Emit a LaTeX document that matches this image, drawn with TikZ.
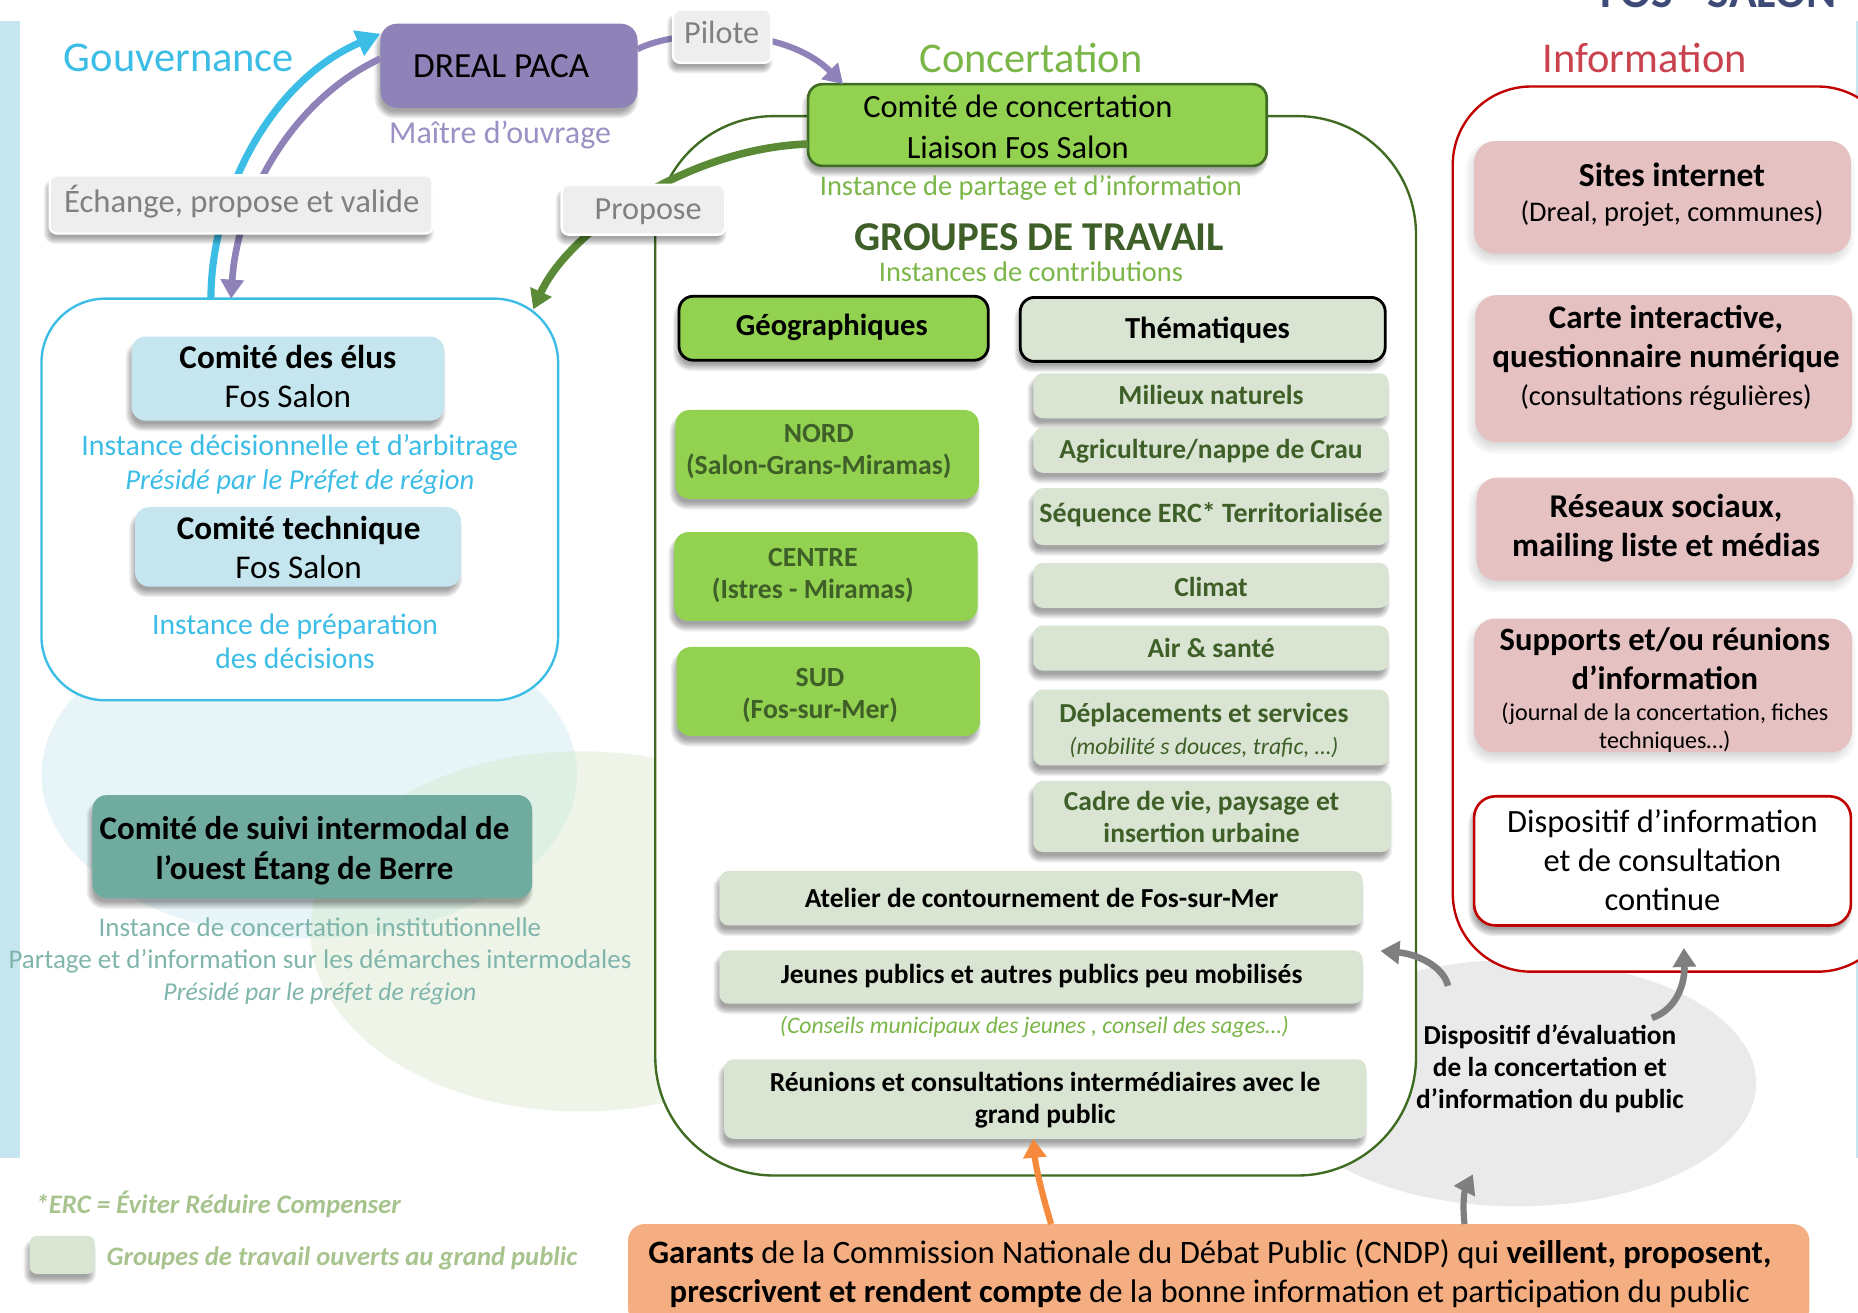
\documentclass[tikz,border=0pt]{standalone}
\usepackage{fontspec}
\setmainfont{Carlito}
\usetikzlibrary{arrows.meta,calc}
\definecolor{cblue}{HTML}{3BBDE6}
\definecolor{cpale}{HTML}{C5E6EF}
\definecolor{cpurple}{HTML}{8E82B8}
\definecolor{cpurpletxt}{HTML}{9C90C4}
\definecolor{cgreen}{HTML}{92D250}
\definecolor{cgreentxt}{HTML}{7AB648}
\definecolor{cdark}{HTML}{3F5F28}
\definecolor{csage}{HTML}{D9E4D2}
\definecolor{cline}{HTML}{3F6B22}
\definecolor{carrow}{HTML}{5A8A35}
\definecolor{cred}{HTML}{C00000}
\definecolor{credtxt}{HTML}{C9434F}
\definecolor{cpink}{HTML}{E5C1C1}
\definecolor{cteal}{HTML}{6FAC9F}
\definecolor{ctealtxt}{HTML}{7FB5AA}
\definecolor{corange}{HTML}{F4AE82}
\definecolor{corarrow}{HTML}{F58A3C}
\definecolor{clabel}{HTML}{EEEEEE}
\definecolor{clabeltxt}{HTML}{808080}
\definecolor{cgreyarrow}{HTML}{7F7F7F}
\definecolor{clegend}{HTML}{A8C48E}
\definecolor{ctitle}{HTML}{3E4A78}
\definecolor{cellgreen}{HTML}{CFE5BE}
\definecolor{cellgrey}{HTML}{EAEAEA}
\tikzset{
  fs/.style 2 args={font=\fontsize{#1}{#2}\selectfont},
  boxcore/.style={inner sep=0pt,outer sep=0pt,rounded corners=6pt},
  purplebox/.style={boxcore,fill=cpurple,rounded corners=7pt,text=black,fs={14.9}{17}},
  palebox/.style={boxcore,fill=cpale,text=black,fs={14}{16.5}},
  tealbox/.style={boxcore,fill=cteal,text=black,fs={13.9}{16.5}},
  greenbox/.style={boxcore,fill=cgreen,text=cdark,fs={11.7}{13.5}},
  headbox/.style={boxcore,draw=black,line width=1.2pt,text=black,fs={12.9}{15}},
  sagebox/.style={boxcore,fill=csage,text=cdark,fs={11.6}{13.5},rounded corners=4pt},
  sageblack/.style={sagebox,text=black},
  pinkbox/.style={boxcore,fill=cpink,text=black,rounded corners=9pt,fs={13.9}{16.5}},
  tagbox/.style={boxcore,fill=clabel,draw=white,line width=1pt,text=clabeltxt,rounded corners=3pt,fs={13.6}{16}},
  orbox/.style={boxcore,fill=corange,rounded corners=7pt,text=black,fs={13.8}{16.5}},
  plain/.style={inner sep=0pt,outer sep=0pt,align=center},
  frame/.style={inner sep=0pt,outer sep=0pt,fill=white},
  thickarrow/.style={line width=#1,-{Triangle[length=8pt,width=9.5pt]}},
  thickarrow/.default=3pt
}
\newcommand\bx[9]{%
  \pgfmathsetmacro\cxx{(#3+#5)/2}\pgfmathsetmacro\cyy{(#4+#6)/2}%
  \pgfmathsetmacro\www{(#5-#3)*0.5}\pgfmathsetmacro\hhh{(#6-#4)*0.5}%
  \pgfmathsetmacro\ddx{#7-\cxx}\pgfmathsetmacro\ddy{(\cyy-#8)*0.5-1.5}%
  \node[#2,minimum width=\www pt,minimum height=\hhh pt] (#1) at (\cxx,\cyy)
    {\hspace*{\ddx pt}\raisebox{\dimexpr\ddy pt-0.25em\relax}[0pt][0pt]{\begin{tabular}{@{}c@{}}#9\end{tabular}}};}
% stacked soft shadows
\newcommand\shh[4]{\foreach \e in {-3,-2,-1,0,1,2,3}{%
  \pgfmathsetmacro\rc{max(\rr+0.5*\e,1)}%
  \fill[black,opacity=.06,rounded corners=\rc pt] ({#1-(\e)-2},{#2-(\e)+6}) rectangle ({#3+(\e)-2},{#4+(\e)+6});}}
\newcommand\shs[4]{\foreach \e in {-5,-3,-1,1,3,5}{%
  \pgfmathsetmacro\rc{max(\rr+0.5*\e,1)}%
  \fill[black,opacity=.028,rounded corners=\rc pt] ({#1-(\e)-2},{#2-(\e)+5}) rectangle ({#3+(\e)-2},{#4+(\e)+5});}}
\newcommand\bxh[1][6]{\def\rr{#1}\bxhx}
\newcommand\bxhx[9]{\shh{#3}{#4}{#5}{#6}\bx{#1}{#2}{#3}{#4}{#5}{#6}{#7}{#8}{#9}}
\newcommand\bxs[1][9]{\def\rr{#1}\bxsx}
\newcommand\bxsx[9]{\shs{#3}{#4}{#5}{#6}\bx{#1}{#2}{#3}{#4}{#5}{#6}{#7}{#8}{#9}}
\newcommand\tx[5]{\node[plain,#2] (#1) at (#3,#4) {#5};}
\newcommand\sz[1]{\fontsize{#1}{14}\selectfont}
\begin{document}
\begin{tikzpicture}[x=0.5pt,y=-0.5pt]
\clip (0,0) rectangle (1568,1108);
\fill[white] (0,0) rectangle (1568,1108);
% stripes
\fill[cpale] (0,18) rectangle (17,977);
\fill[cpale] (1566,18) rectangle (1568,977);
% background ellipses
\fill[cpale,opacity=.4] (261,654) ellipse [x radius=226,y radius=138];
\fill[cellgreen,opacity=.35] (490,786) ellipse [x radius=228,y radius=152];
\fill[cellgrey] (1280,914) ellipse [x radius=202,y radius=104];
% title
\node[anchor=base,inner sep=0pt,font=\fontsize{19.3}{24}\selectfont\bfseries,text=ctitle] (title) at (1450,6) {FOS - SALON};
% containers
\node[frame,draw=cblue,line width=1pt,rounded corners=27pt,minimum width=218pt,minimum height=169.5pt] (gov) at (253,421.5) {};
\node[frame,draw=cline,line width=1pt,rounded corners=50pt,minimum width=321pt,minimum height=447pt] (con) at (874,545) {};
\node[frame,draw=cred,line width=1pt,rounded corners=33pt,minimum width=187pt,minimum height=373.5pt] (inf) at (1413,446.5) {};
% headings
\tx{hgov}{fs={17.9}{22},text=cblue}{151}{49}{Gouvernance}
\tx{hcon}{fs={17.9}{22},text=cgreentxt}{870}{49}{Concertation}
\tx{hinf}{fs={17.9}{22},text=credtxt}{1388}{49}{Information}
% governance
\bxh[7]{dreal}{purplebox}{321}{20}{538}{91}{423}{55}{DREAL PACA}
\tx{mo}{fs={13.5}{16},text=cpurpletxt}{422}{114}{Maître d’ouvrage}
\bxh{elus}{palebox}{111}{284}{375}{355}{243}{318}{\textbf{Comité des élus}\\Fos Salon}
\tx{t1}{fs={12.6}{14.5},text=cblue}{253}{392}{Instance décisionnelle et d’arbitrage\\\sz{12.1}\textit{Présidé par le Préfet de région}}
\bxh{tech}{palebox}{114}{428}{389}{495}{252}{462}{\textbf{Comité technique}\\Fos Salon}
\tx{t2}{fs={12.5}{14.5},text=cblue}{249}{541}{Instance de préparation\\des décisions}
\bxh{suivi}{tealbox}{78}{671}{449}{758}{257}{716}{\textbf{Comité de suivi intermodal de}\\\textbf{l’ouest Étang de Berre}}
\tx{t3}{fs={11.4}{13.5},text=ctealtxt}{270}{811}{Instance de concertation institutionnelle\\Partage et d’information sur les démarches intermodales\\\sz{10.85}\textit{Présidé par le préfet de région}}
% concertation
\bxh{cc}{boxcore,fill=cgreen,draw=cline,line width=1.1pt,text=black,fs={13.7}{17}}{682}{71}{1069}{140}{859}{107}{Comité de concertation\\Liaison Fos Salon}
\tx{t4}{fs={12}{15},text=cgreentxt}{870}{159}{Instance de partage et d’information}
\tx{gt}{fs={17.3}{19},text=cdark}{877}{200}{\textbf{GROUPES DE TRAVAIL}}
\tx{t5}{fs={12}{15},text=cgreentxt}{870}{229}{Instances de contributions}
\bxh{geo}{headbox,fill=cgreen}{573}{250}{834}{304}{702}{274}{\textbf{Géographiques}}
\bxh{the}{headbox,fill=csage}{861}{251}{1169}{305}{1019}{276}{\textbf{Thématiques}}
\bxh{nord}{greenbox}{570}{346}{826}{421}{691}{379}{\textbf{NORD}\\\textbf{(Salon-Grans-Miramas)}}
\bxh{centre}{greenbox}{569}{449}{825}{524}{686}{483}{\textbf{CENTRE}\\\textbf{(Istres - Miramas)}}
\bxh{sud}{greenbox}{571}{546}{827}{621}{692}{585}{\textbf{SUD}\\\textbf{(Fos-sur-Mer)}}
\bxh[4]{s1}{sagebox}{872}{315}{1172}{353}{1022}{333}{\textbf{Milieux naturels}}
\bxh[4]{s2}{sagebox}{872}{361}{1172}{399}{1022}{379}{\textbf{Agriculture/nappe de Crau}}
\bxh[4]{s3}{sagebox,fs={11.8}{13.5}}{872}{412}{1172}{460}{1022}{433}{\textbf{Séquence ERC* Territorialisée}}
\bxh[4]{s4}{sagebox}{872}{475}{1172}{513}{1022}{495}{\textbf{Climat}}
\bxh[4]{s5}{sagebox}{872}{528}{1172}{566}{1022}{547}{\textbf{Air \& santé}}
\bxh[4]{s6}{sagebox}{872}{582}{1172}{646}{1016}{615}{\textbf{Déplacements et services}\\{\fontsize{10}{13}\selectfont\textit{(mobilité s douces, trafic, …)}}}
\bxh[4]{s7}{sagebox}{872}{659}{1174}{719}{1014}{689}{\textbf{Cadre de vie, paysage et}\\\textbf{insertion urbaine}}
\bxh[4]{s8}{sageblack}{607}{735}{1150}{781}{879}{758}{\textbf{Atelier de contournement de Fos-sur-Mer}}
\bxh[4]{s9}{sageblack}{607}{802}{1150}{847}{879}{822}{\textbf{Jeunes publics et autres publics peu mobilisés}}
\tx{t6}{fs={10}{13},text=cgreentxt}{873}{867}{\textit{(Conseils municipaux des jeunes , conseil des sages…)}}
\bxh[4]{s10}{sageblack}{611}{894}{1153}{961}{882}{926.5}{\textbf{Réunions et consultations intermédiaires avec le}\\\textbf{grand public}}
% information
\bxs{p1}{pinkbox,fs={14.2}{16.5}}{1244}{119}{1562}{214}{1411}{162.5}{\textbf{Sites internet}\\[-1.5pt]{\fontsize{12}{14}\selectfont (Dreal, projet, communes)}}
\bxs{p2}{pinkbox}{1245}{249}{1563}{373}{1406}{300.5}{\textbf{Carte interactive,}\\\textbf{questionnaire numérique}\\[-0.5pt]{\fontsize{12}{14}\selectfont (consultations régulières)}}
\bxs{p3}{pinkbox,fs={14}{16.5}}{1246}{403}{1564}{490}{1406}{443.5}{\textbf{Réseaux sociaux,}\\\textbf{mailing liste et médias}}
\bxs{p4}{pinkbox,fs={13.75}{16.5}}{1244}{522}{1563}{635}{1405}{581}{\textbf{Supports et/ou réunions}\\\textbf{d’information}\\[-3.5pt]{\fontsize{10.15}{13}\selectfont (journal de la concertation, fiches}\\[-4.5pt]{\fontsize{10.15}{13}\selectfont techniques…)}}
\bxh[9]{p5}{boxcore,fill=white,draw=cred,line width=1.1pt,rounded corners=9pt,text=black,fs={13.7}{16.5}}{1244}{672}{1562}{781}{1403}{726}{Dispositif d’information\\et de consultation\\continue}
% evaluation
\tx{ev}{fs={11.55}{13.5},text=black}{1308}{902}{\textbf{Dispositif d’évaluation}\\\textbf{de la concertation et}\\\textbf{d’information du public}}
% garants
\bx{gar}{orbox}{530}{1033}{1527}{1118}{1021}{1073.5}{\textbf{Garants} de la Commission Nationale du Débat Public (CNDP) qui \textbf{veillent, proposent,}\\\textbf{prescrivent et rendent compte} de la bonne information et participation du public}
% legend
\tx{erc}{anchor=west,fs={11.3}{14},text=clegend}{30}{1016}{\textbf{\textit{*ERC = Éviter Réduire Compenser}}}
\bxh[3]{leg}{boxcore,fill=csage,rounded corners=3pt}{25}{1043}{80}{1075}{52.5}{1059}{}
\tx{legt}{anchor=west,fs={11.25}{14},text=clegend}{90}{1062}{\textbf{\textit{Groupes de travail ouverts au grand public}}}
% connectors
\draw[thickarrow,cblue,-{Triangle[length=10pt,width=11pt]}] ([xshift=-37.5pt]gov.north) .. controls (178,170) and (225,70) .. ([yshift=13.5pt]dreal.west);
\draw[thickarrow=2.8pt,cpurple] ([yshift=3pt]dreal.west) .. controls (245,85) and (200,170) .. ([xshift=-29pt]gov.north);
\draw[thickarrow=2.6pt,cpurple] ([yshift=7pt]dreal.east) .. controls (570,25) and (660,20) .. ([xshift=-82pt]cc.north);
\draw[thickarrow=3.2pt,carrow] ([yshift=-8pt]cc.west) .. controls (580,125) and (480,195) .. ([xshift=-10.5pt,yshift=-4.5pt]gov.north east);
\draw[thickarrow=2.6pt,corarrow] ([xshift=-70.7pt]gar.north) .. controls (880,1010) and (874,985) .. ([xshift=-5pt]s10.south);
\draw[thickarrow=2.8pt,cgreyarrow] (1222,832) .. controls (1218,815) and (1195,805) .. ([xshift=7.5pt,yshift=11pt]s9.east);
\draw[thickarrow=2.8pt,cgreyarrow] (1394,859) .. controls (1415,852) and (1422,830) .. ([xshift=4pt,yshift=10pt]inf.south);
\draw[thickarrow=2.6pt,cgreyarrow] ([xshift=103.7pt]gar.north) .. controls (1234,1015) and (1236,1005) .. (1243,991);
% tags
\bxh[3]{pil}{tagbox}{568}{8}{651}{53}{609}{28}{Pilote}
\bxh[3]{ech}{tagbox,fs={13.8}{16}}{42}{148}{365}{197}{204}{170}{Échange, propose et valide}
\bxh[3]{pro}{tagbox}{474}{156}{612}{198}{547}{176}{Propose}
\end{tikzpicture}
\end{document}
